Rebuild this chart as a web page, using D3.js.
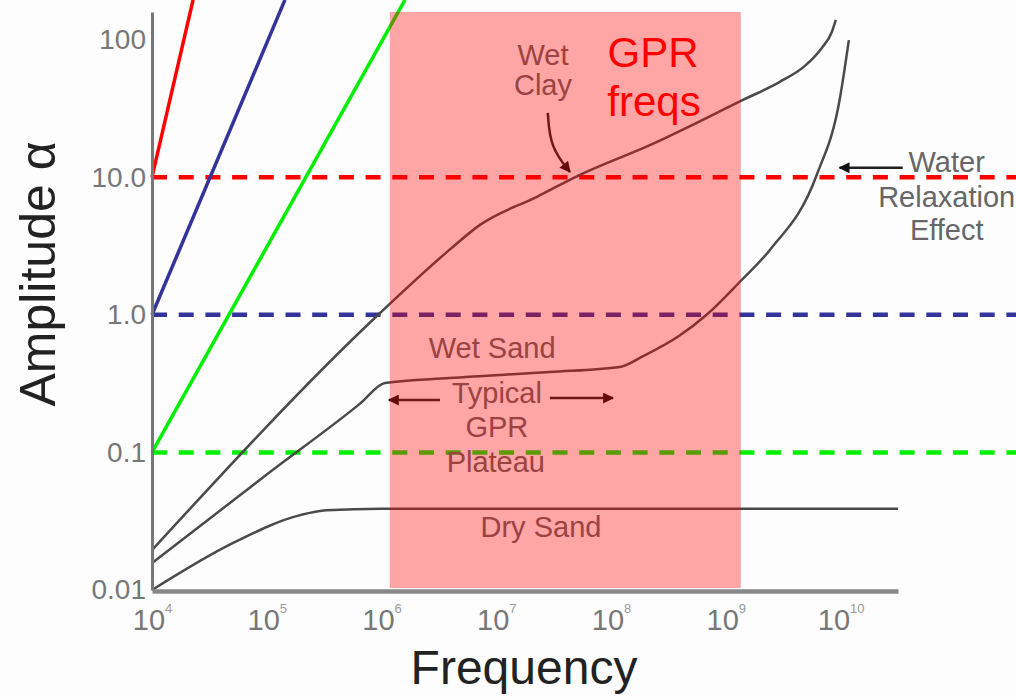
<!DOCTYPE html>
<html>
<head>
<meta charset="utf-8">
<script src="https://cdn.jsdelivr.net/npm/d3@7"></script>
<style>
  body { margin: 0; background: #fdfdfd; }
  svg { display: block; font-family: Arial, "Liberation Sans", sans-serif; }
</style>
</head>
<body>
<svg id="chart" width="1016" height="697"></svg>
<script>
// axis ticks
const freqTicks = [1e4, 1e5, 1e6, 1e7, 1e8, 1e9, 1e10]
const freqExponents = ['4', '5', '6', '7', '8', '9', '10']
const ampTicks = [0.01, 0.1, 1, 10, 100]
const ampTickLabels = ['0.01', '0.1', '1.0', '10.0', '100']

// horizontal dashed reference levels
const levels = [10, 1, 0.1]
const levelColors = ['#ff0000', '#333399', '#00ee00']

// straight slopes starting from each level
const redSlope = [[1e4, 10], [2.28e4, 194]]
const blueSlope = [[1e4, 1], [1.44e5, 194]]
const greenSlope = [[1e4, 0.1], [1.6e6, 194]]

// material curves [frequency, amplitude]
const wetClay = [[1e4, 0.0195], [9.7e5, 1.03], [3.9e6, 2.96], [7.2e6, 4.5], [2.26e7, 7.2], [5.35e7, 10.4],
    [2.18e8, 17.1], [1.41e9, 36.4], [2.95e9, 49.2], [4.88e9, 64.3], [6.86e9, 86.9], [8.37e9, 113], [9.08e9, 139]]
const wetSand = [[1e4, 0.0157], [1e5, 0.069], [6.5e5, 0.226], [1.07e6, 0.319], [3.9e6, 0.347], [2.93e7, 0.384], [1.19e8, 0.417],
    [1.9e8, 0.5], [3.9e8, 0.7], [6.8e8, 1.0], [1.32e9, 1.73], [2.42e9, 2.96], [6.2e9, 10.4], [9.8e9, 36.4], [1.18e10, 99]]
const drySand = [[1e4, 0.01], [5.1e4, 0.022], [1.95e5, 0.035], [3.3e5, 0.038], [1e6, 0.039], [3.16e10, 0.039]]

// GPR frequency band
const gprBand = [1.18e6, 1.35e9]

const width = 1016
const height = 697
const svg = d3.select('#chart')

const x = d3.scaleLog().domain([1e4, Math.pow(10, 10.5)]).range([152, 898])
const y = d3.scaleLog().domain([0.01, Math.pow(10, 2.2)]).range([590, 12])

svg.append('defs').append('marker')
    .attr('id', 'head')
    .attr('viewBox', '0 0 10 10')
    .attr('refX', 9).attr('refY', 5)
    .attr('markerWidth', 13).attr('markerHeight', 11)
    .attr('markerUnits', 'userSpaceOnUse')
    .attr('orient', 'auto')
    .append('path').attr('d', 'M0,0L10,5L0,10Z').attr('fill', '#111')

// dashed levels
svg.selectAll('.level')
    .data(levels)
    .join('line')
    .attr('x1', x(1e4)).attr('x2', width)
    .attr('y1', d => y(d)).attr('y2', d => y(d))
    .attr('stroke', (d, i) => levelColors[i])
    .attr('stroke-width', 4.5)
    .attr('stroke-dasharray', '15,11.7')

const line = d3.line().x(d => x(d[0])).y(d => y(d[1]))
const curve = d3.line().x(d => x(d[0])).y(d => y(d[1])).curve(d3.curveMonotoneX)

;[redSlope, blueSlope, greenSlope].forEach((s, i) => {
    svg.append('path').attr('d', line(s))
        .attr('fill', 'none')
        .attr('stroke', levelColors[i])
        .attr('stroke-width', 3.5)
})

;[wetClay, wetSand, drySand].forEach(c => {
    svg.append('path').attr('d', curve(c))
        .attr('fill', 'none')
        .attr('stroke', '#4a4a4a')
        .attr('stroke-width', 2.5)
})

// annotations
const notes = [
    { t: 'Wet', f: 2.55e7, a: 65.3 }, { t: 'Clay', f: 2.55e7, a: 39.5 },
    { t: 'Wet Sand', f: 9.2e6, a: 0.485 },
    { t: 'Typical', f: 1.01e7, a: 0.229 }, { t: 'GPR', f: 1.01e7, a: 0.129 }, { t: 'Plateau', f: 9.9e6, a: 0.072 },
    { t: 'Dry Sand', f: 2.45e7, a: 0.0243 },
    { t: 'Water', f: 8.4e10, a: 10.9 }, { t: 'Relaxation', f: 8.4e10, a: 6.07 }, { t: 'Effect', f: 8.4e10, a: 3.5 }
]
svg.selectAll('.note')
    .data(notes)
    .join('text')
    .attr('x', d => x(d.f)).attr('y', d => y(d.a))
    .attr('text-anchor', 'middle')
    .attr('font-size', 29)
    .attr('fill', '#666')
    .text(d => d.t)

const arrows = [
    [[2.81e7, 29.3], [2.95e7, 16.5], [4.38e7, 10.9]],
    [[3.23e6, 0.24], [1.16e6, 0.24]],
    [[2.93e7, 0.248], [1.04e8, 0.248]],
    [[3.48e10, 11.7], [9.8e9, 11.7]]
]
arrows.forEach(a => {
    svg.append('path')
        .attr('d', a.length == 3 ? d3.line().x(d => x(d[0])).y(d => y(d[1])).curve(d3.curveBasis)(a) : line(a))
        .attr('fill', 'none')
        .attr('stroke', '#222')
        .attr('stroke-width', 2.5)
        .attr('marker-end', 'url(#head)')
})

// pink overlay
svg.append('rect')
    .attr('x', x(gprBand[0])).attr('width', x(gprBand[1]) - x(gprBand[0]))
    .attr('y', 12).attr('height', 576)
    .attr('fill', '#ff0000')
    .attr('fill-opacity', 0.35)

svg.append('text').attr('x', 653).attr('y', 67)
    .attr('text-anchor', 'middle').attr('font-size', 42).attr('fill', '#ff0000').text('GPR')
svg.append('text').attr('x', 654).attr('y', 116)
    .attr('text-anchor', 'middle').attr('font-size', 42).attr('fill', '#ff0000').text('freqs')

// axes
const yAxis = svg.append('g')
    .attr('transform', `translate(${x(1e4)},0)`)
    .call(d3.axisLeft(y).tickValues(ampTicks).tickSize(0).tickPadding(6)
        .tickFormat((d, i) => ampTickLabels[i]))
yAxis.select('.domain').attr('stroke', '#777').attr('stroke-width', 3)
yAxis.selectAll('text').attr('font-size', 28).attr('fill', '#777').attr('font-family', 'Arial, "Liberation Sans", sans-serif')

const xAxis = svg.append('g')
    .attr('transform', `translate(0,591)`)
    .call(d3.axisBottom(x).tickValues(freqTicks).tickSize(0).tickFormat(''))
xAxis.select('.domain').attr('stroke', '#888').attr('stroke-width', 4.5)
xAxis.selectAll('.tick text')
    .attr('y', 39).attr('dy', null)
    .attr('font-size', 29).attr('fill', '#777')
    .attr('font-family', 'Arial, "Liberation Sans", sans-serif')
    .each(function (d, i) {
        const t = d3.select(this)
        t.append('tspan').text('10')
        t.append('tspan').attr('dy', -17).attr('font-size', 13).attr('fill', '#999').text(freqExponents[i])
    })

svg.append('text')
    .attr('transform', 'translate(55,274) rotate(-90)')
    .attr('text-anchor', 'middle')
    .attr('font-size', 50)
    .attr('fill', '#222')
    .text('Amplitude α')

svg.append('text')
    .attr('x', 524).attr('y', 684)
    .attr('text-anchor', 'middle')
    .attr('font-size', 48)
    .attr('fill', '#222')
    .text('Frequency')
</script>
</body>
</html>
